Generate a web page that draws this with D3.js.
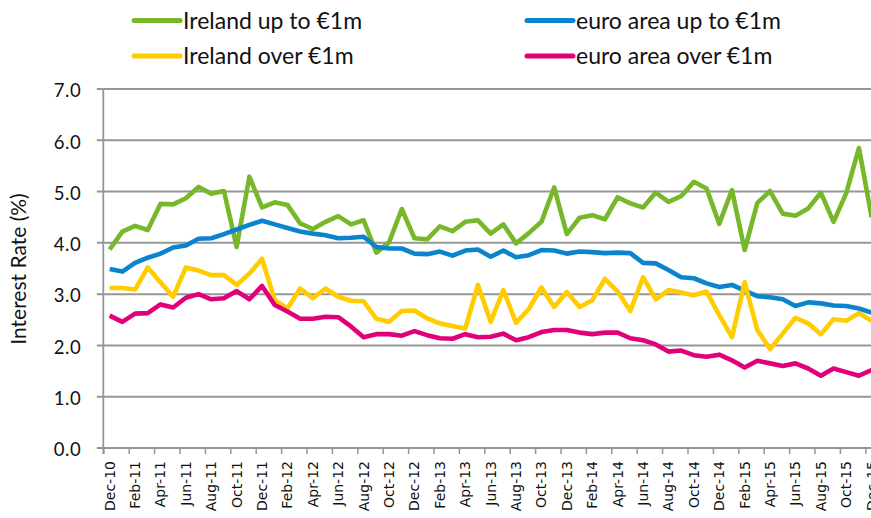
<!DOCTYPE html>
<html>
<head>
<meta charset="utf-8">
<script src="https://cdn.jsdelivr.net/npm/d3@7"></script>
<style>
  body { margin: 0; background: #fff; }
  svg { display: block; }
</style>
</head>
<body>
<svg id="chart" width="871" height="518"></svg>
<script>
// Monthly categories, Dec-10 to Dec-15
const months = [
  "Dec-10","Jan-11","Feb-11","Mar-11","Apr-11","May-11","Jun-11","Jul-11","Aug-11","Sep-11","Oct-11","Nov-11",
  "Dec-11","Jan-12","Feb-12","Mar-12","Apr-12","May-12","Jun-12","Jul-12","Aug-12","Sep-12","Oct-12","Nov-12",
  "Dec-12","Jan-13","Feb-13","Mar-13","Apr-13","May-13","Jun-13","Jul-13","Aug-13","Sep-13","Oct-13","Nov-13",
  "Dec-13","Jan-14","Feb-14","Mar-14","Apr-14","May-14","Jun-14","Jul-14","Aug-14","Sep-14","Oct-14","Nov-14",
  "Dec-14","Jan-15","Feb-15","Mar-15","Apr-15","May-15","Jun-15","Jul-15","Aug-15","Sep-15","Oct-15","Nov-15",
  "Dec-15"
];

// Interest rates (%) on new loans
const irelandUpTo1m = [
  3.87,4.22,4.33,4.25,4.76,4.75,4.87,5.09,4.96,5.01,3.92,5.29,
  4.69,4.79,4.74,4.38,4.27,4.41,4.52,4.36,4.44,3.81,4.01,4.66,
  4.09,4.07,4.32,4.23,4.41,4.44,4.18,4.36,3.99,4.19,4.41,5.08,
  4.17,4.49,4.54,4.46,4.89,4.77,4.69,4.98,4.80,4.91,5.19,5.06,
  4.37,5.03,3.86,4.78,5.01,4.57,4.53,4.67,4.98,4.41,4.97,5.85,
  4.50
];
const euroAreaUpTo1m = [
  3.49,3.44,3.61,3.71,3.79,3.91,3.95,4.08,4.09,4.17,4.26,4.35,
  4.43,4.36,4.29,4.22,4.18,4.15,4.09,4.10,4.12,3.92,3.89,3.89,
  3.79,3.78,3.83,3.75,3.85,3.87,3.73,3.85,3.72,3.76,3.86,3.85,
  3.79,3.83,3.82,3.80,3.81,3.80,3.61,3.60,3.47,3.33,3.31,3.21,
  3.14,3.18,3.07,2.96,2.94,2.90,2.77,2.84,2.82,2.78,2.77,2.72,
  2.64
];
const irelandOver1m = [
  3.12,3.12,3.09,3.52,3.23,2.95,3.52,3.46,3.37,3.37,3.18,3.40,
  3.69,2.88,2.72,3.11,2.92,3.11,2.95,2.87,2.86,2.52,2.46,2.67,
  2.68,2.53,2.43,2.38,2.33,3.18,2.46,3.08,2.44,2.71,3.13,2.75,
  3.04,2.75,2.88,3.30,3.05,2.67,3.33,2.90,3.08,3.03,2.98,3.05,
  2.59,2.16,3.23,2.30,1.93,2.23,2.54,2.43,2.22,2.51,2.48,2.63,
  2.48
];
const euroAreaOver1m = [
  2.58,2.46,2.62,2.63,2.80,2.74,2.93,3.00,2.90,2.92,3.06,2.90,
  3.16,2.79,2.66,2.52,2.52,2.56,2.55,2.37,2.16,2.22,2.22,2.19,
  2.28,2.20,2.14,2.13,2.22,2.16,2.17,2.23,2.10,2.16,2.26,2.30,
  2.30,2.25,2.22,2.25,2.25,2.14,2.10,2.02,1.88,1.90,1.81,1.78,
  1.82,1.71,1.57,1.70,1.65,1.60,1.65,1.55,1.41,1.55,1.48,1.41,
  1.52
];

const seriesNames = ["Ireland up to €1m", "euro area up to €1m", "Ireland over €1m", "euro area over €1m"];
const seriesColors = ["#76b82a", "#0a84cc", "#ffcc00", "#e2007a"];
const yTicks = [0, 1, 2, 3, 4, 5, 6, 7];
const yTitle = "Interest Rate (%)";

const series = [irelandUpTo1m, euroAreaUpTo1m, irelandOver1m, euroAreaOver1m];

const W = 871, H = 518;
const svg = d3.select("#chart");
svg.append("rect").attr("width", W).attr("height", H).attr("fill", "#fff");

const left = 103.3, step = 12.7;
const x = d3.scaleLinear().domain([0, months.length]).range([left, left + step * months.length]);
const y = d3.scaleLinear().domain([0, 7]).range([448, 89]);

const gridColor = "#969696";

// horizontal gridlines (extending left as tick marks)
svg.append("g")
  .selectAll("line")
  .data(yTicks)
  .join("line")
  .attr("x1", left - 6.5).attr("x2", W)
  .attr("y1", d => y(d)).attr("y2", d => y(d))
  .attr("stroke", gridColor).attr("stroke-width", 2);

// y tick labels
const yAxis = svg.append("g")
  .attr("transform", `translate(${left - 6},0)`)
  .call(d3.axisLeft(y).tickValues(yTicks).tickFormat(d3.format(".1f")).tickSize(0).tickPadding(16));
yAxis.select(".domain").remove();
yAxis.selectAll("text")
  .attr("font-family", "Lato, 'Open Sans', sans-serif")
  .attr("font-size", 18.5)
  .attr("letter-spacing", 0.6)
  .attr("fill", "#111")
  .attr("dy", "0.42em");

// x axis: baseline and tick marks every second month
const evenIdx = d3.range(0, months.length, 2);
const xAxis = svg.append("g")
  .attr("transform", `translate(0,${y(0)})`)
  .call(d3.axisBottom(x).tickValues(evenIdx).tickSize(6).tickFormat(""));
xAxis.select(".domain").attr("d", `M${left},0H${W}`).attr("stroke", gridColor).attr("stroke-width", 2);
xAxis.selectAll(".tick line").attr("stroke", gridColor).attr("stroke-width", 1.5);

// vertical axis line
svg.append("line")
  .attr("x1", left).attr("x2", left)
  .attr("y1", y(7)).attr("y2", y(0) + 6)
  .attr("stroke", gridColor).attr("stroke-width", 1.8);

// rotated month labels
svg.append("g")
  .selectAll("text")
  .data(evenIdx)
  .join("text")
  .attr("transform", i => `translate(${x(i + 0.5)},${y(0) + 13}) rotate(-90)`)
  .attr("text-anchor", "end")
  .attr("dy", "0.36em")
  .attr("font-family", "'DejaVu Sans', Verdana, sans-serif")
  .attr("font-size", 14)
  .attr("fill", "#111")
  .text(i => months[i]);

// y-axis title
svg.append("text")
  .attr("transform", `translate(26,269) rotate(-90)`)
  .attr("text-anchor", "middle")
  .attr("font-family", "Lato, 'Open Sans', sans-serif")
  .attr("font-size", 21)
  .attr("fill", "#111")
  .text(yTitle);

// series lines
const line = d3.line()
  .x((d, i) => x(i + 0.5))
  .y(d => y(d));

svg.append("g")
  .selectAll("path")
  .data(series)
  .join("path")
  .attr("d", d => line(d))
  .attr("fill", "none")
  .attr("stroke", (d, i) => seriesColors[i])
  .attr("stroke-width", 4.6)
  .attr("stroke-linejoin", "round")
  .attr("stroke-linecap", "butt");

// legend: two columns, two rows
const legendPos = [[132, 20.5], [525, 20.5], [132, 56], [525, 56]];
const legend = svg.append("g")
  .selectAll("g")
  .data(seriesNames)
  .join("g")
  .attr("transform", (d, i) => `translate(${legendPos[i][0]},${legendPos[i][1]})`);
legend.append("line")
  .attr("x1", 2).attr("x2", 48)
  .attr("stroke", (d, i) => seriesColors[i])
  .attr("stroke-width", 5)
  .attr("stroke-linecap", "round");
legend.append("text")
  .attr("x", 51)
  .attr("dy", "0.35em")
  .attr("font-family", "Lato, 'Open Sans', sans-serif")
  .attr("font-size", 23)
  .attr("fill", "#111")
  .text(d => d);
</script>
</body>
</html>
